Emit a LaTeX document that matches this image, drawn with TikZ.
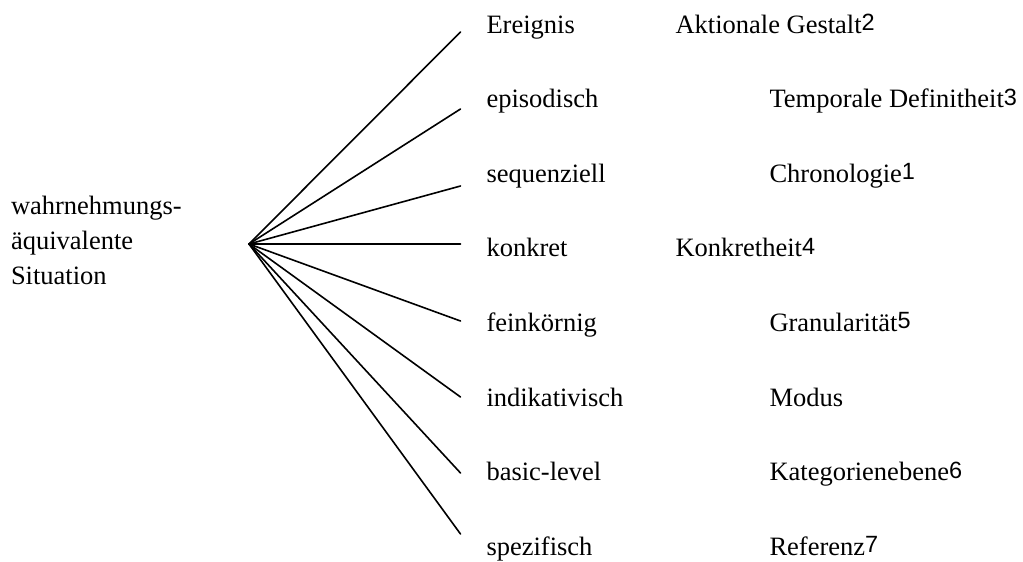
\documentclass[tikz,border=0pt]{standalone}
\usepackage{fontspec}
\setmainfont{Liberation Serif}
\newfontfamily\notefont{Liberation Sans}
% footnote-style marker set in a sans face
\newcommand{\fnmark}[1]{\raisebox{2.5pt}{\notefont\fontsize{23.5}{24}\selectfont #1}}
\begin{document}
\begin{tikzpicture}[x=1pt,y=-1pt,
  lbl/.style={anchor=base west,inner sep=0pt,outer sep=0pt,font=\fontsize{26.5}{35}\selectfont},
  branch/.style={line width=1.6pt,line cap=round}]
\useasboundingbox (0,0) rectangle (1023,562);

% root label
\node[lbl,anchor=north west,align=left] (sit) at (11,196.5)
  {wahrnehmungs-\\äquivalente\\Situation};

% fan origin and branch ends
\coordinate (root) at (249,244);
\coordinate (e1) at (460.5,32);
\coordinate (e2) at (460.5,109);
\coordinate (e3) at (460.5,186);
\coordinate (e4) at (460.5,244);
\coordinate (e5) at (460.5,321);
\coordinate (e6) at (460.5,397);
\coordinate (e7) at (460.5,473);
\coordinate (e8) at (460.5,534);

\foreach \i in {1,...,8} \draw[branch] (root) -- (e\i);

% feature values
\node[lbl] (v1) at (486.5,33)    {Ereignis};
\node[lbl] (v2) at (486.5,107.6) {episodisch};
\node[lbl] (v3) at (486.5,182.2) {sequenziell};
\node[lbl] (v4) at (486.5,256.8) {konkret};
\node[lbl] (v5) at (486.5,331.4) {feinkörnig};
\node[lbl] (v6) at (486.5,406)   {indikativisch};
\node[lbl] (v7) at (486.5,480.6) {basic-level};
\node[lbl] (v8) at (486.5,555.2) {spezifisch};

% feature dimensions
\node[lbl] (d1) at (675.5,33)    {Aktionale Gestalt\fnmark{2}};
\node[lbl] (d2) at (769.5,107.6) {Temporale Definitheit\fnmark{3}};
\node[lbl] (d3) at (769.5,182.2) {Chronologie\fnmark{1}};
\node[lbl] (d4) at (675.5,256.8) {Konkretheit\fnmark{4}};
\node[lbl] (d5) at (769.5,331.4) {Granularität\fnmark{5}};
\node[lbl] (d6) at (769.5,406)   {Modus};
\node[lbl] (d7) at (769.5,480.6) {Kategorienebene\fnmark{6}};
\node[lbl] (d8) at (769.5,555.2) {Referenz\fnmark{7}};
\end{tikzpicture}
\end{document}
